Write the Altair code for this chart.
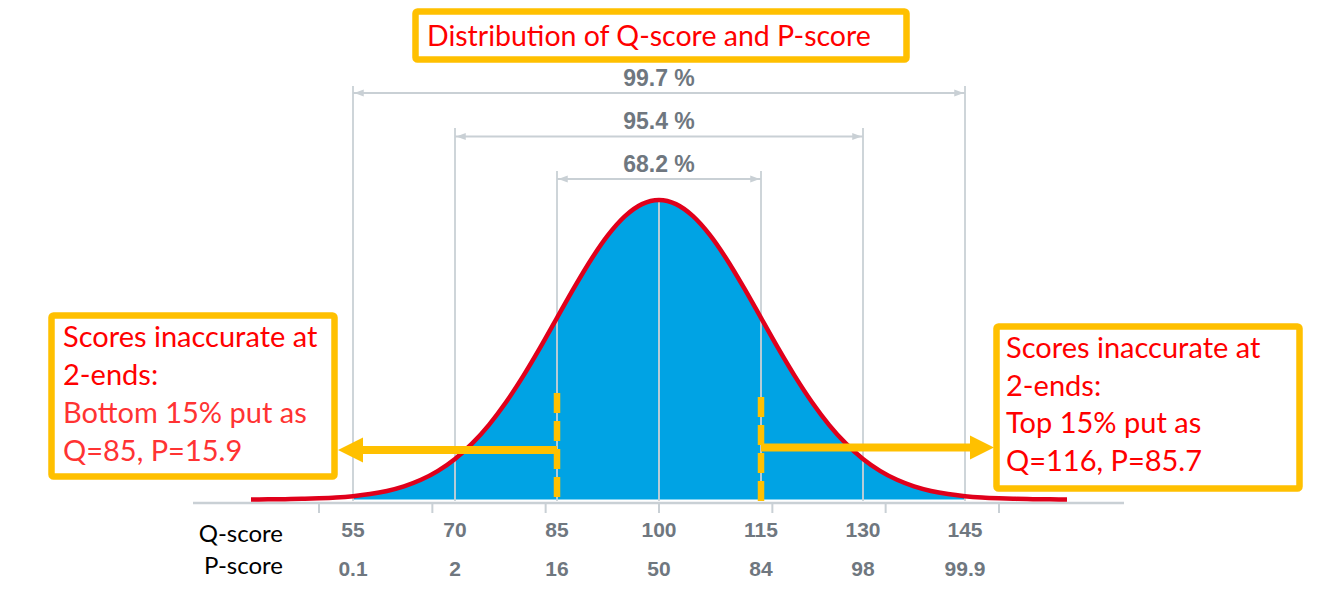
import altair as alt
import pandas as pd

# ---------------- data ----------------
q_grid = [40, 42.5, 45, 47.5, 50, 52.5, 55, 57.5, 60, 62.5, 65, 67.5, 70, 72.5,
          75, 77.5, 80, 82.5, 85, 87.5, 90, 92.5, 95, 97.5, 100, 102.5, 105, 107.5,
          110, 112.5, 115, 117.5, 120, 122.5, 125, 127.5, 130, 132.5, 135, 137.5,
          140, 142.5, 145, 147.5, 150, 152.5, 155, 157.5, 160]
density = [0.0003, 0.0006, 0.0012, 0.0022, 0.0039, 0.0066, 0.0111, 0.0181, 0.0286,
           0.0439, 0.0657, 0.0956, 0.1353, 0.1863, 0.2494, 0.3247, 0.4111, 0.5063,
           0.6065, 0.7066, 0.8007, 0.8825, 0.9460, 0.9862, 1.0000, 0.9862, 0.9460,
           0.8825, 0.8007, 0.7066, 0.6065, 0.5063, 0.4111, 0.3247, 0.2494, 0.1863,
           0.1353, 0.0956, 0.0657, 0.0439, 0.0286, 0.0181, 0.0111, 0.0066, 0.0039,
           0.0022, 0.0012, 0.0006, 0.0003]
q_labels = ["55", "70", "85", "100", "115", "130", "145"]
q_values = [55, 70, 85, 100, 115, 130, 145]
p_labels = ["0.1", "2", "16", "50", "84", "98", "99.9"]
tick_q = [50, 66.67, 83.33, 100, 116.67, 133.33, 150]
bracket_pct = ["99.7 %", "95.4 %", "68.2 %"]
bracket_lo = [55, 70, 85]
bracket_hi = [145, 130, 115]
cut_q = [85, 115]

title_text = "Distribution of Q-score and P-score"
left_lines = ["Scores inaccurate at", "2-ends:", "Bottom 15% put as", "Q=85, P=15.9"]
right_lines = ["Scores inaccurate at", "2-ends:", "Top 15% put as", "Q=116, P=85.7"]

# ---------------- layout (pixels) ----------------
W, H = 1328, 615
X_MEAN_PX, PX_PER_Q = 659.0, 6.8
Y_BASE_PX, PX_PER_D = 499.5, 299.5


def qpx(px):
    return 100 + (px - X_MEAN_PX) / PX_PER_Q


def dpx(px):
    return (Y_BASE_PX - px) / PX_PER_D


XS = alt.Scale(domain=[qpx(0), qpx(W)], nice=False, zero=False)
YS = alt.Scale(domain=[dpx(H), dpx(0)], nice=False, zero=False)

GRAY = "#c9d0d5"
LABEL_GRAY = "#6f777f"
BLUE = "#00a3e4"
RED = "#e0001b"
GOLD = "#ffc000"

one = pd.DataFrame({"a": [0]})


def X(f):
    return alt.X(f, type="quantitative", scale=XS, axis=None)


def Y(f):
    return alt.Y(f, type="quantitative", scale=YS, axis=None)


curve = pd.DataFrame({"q": q_grid, "d": density})
fill_df = curve[(curve.q >= 55) & (curve.q <= 145)]

layers = []

# axis line and ticks
layers.append(alt.Chart(one).mark_rule(color=GRAY, strokeWidth=2.5).encode(
    x=alt.value(193), x2=alt.value(1124), y=alt.value(503)))
layers.append(alt.Chart(pd.DataFrame({"q": tick_q})).mark_rule(color=GRAY, strokeWidth=2).encode(
    x=X("q"), y=alt.value(503), y2=alt.value(513)))

# blue area
layers.append(alt.Chart(fill_df).mark_area(color=BLUE, interpolate="monotone").encode(
    x=X("q"), y=Y("d"), y2=alt.datum(0)))

# vertical bracket lines
vdf = pd.DataFrame({
    "q": bracket_lo + bracket_hi + [100],
    "top": [dpx(86), dpx(128), dpx(171)] * 2 + [1.0],
    "bot": [dpx(501)] * 7,
})
layers.append(alt.Chart(vdf).mark_rule(color=GRAY, strokeWidth=2, opacity=0.9).encode(
    x=X("q"), y=Y("top"), y2=alt.Y2("bot")))

# horizontal bracket lines
bdf = pd.DataFrame({
    "lo": bracket_lo, "hi": bracket_hi, "pct": bracket_pct,
    "ly": [dpx(93), dpx(136.5), dpx(179)],
    "ty": [dpx(79), dpx(122), dpx(165)],
    "mid": [100, 100, 100],
})
layers.append(alt.Chart(bdf).mark_rule(color=GRAY, strokeWidth=2).encode(
    x=X("lo"), x2=alt.X2("hi"), y=Y("ly")))
layers.append(alt.Chart(bdf).mark_point(shape="M-1,0L1,-0.75L1,0.75Z", filled=True, size=90,
                                         color=GRAY, opacity=1, xOffset=6).encode(
    x=X("lo"), y=Y("ly")))
layers.append(alt.Chart(bdf).mark_point(shape="M1,0L-1,-0.75L-1,0.75Z", filled=True, size=90,
                                         color=GRAY, opacity=1, xOffset=-6).encode(
    x=X("hi"), y=Y("ly")))
layers.append(alt.Chart(bdf).mark_text(font="Liberation Sans", fontSize=23, fontWeight="bold",
                                        color=LABEL_GRAY, align="center", baseline="middle").encode(
    x=X("mid"), y=Y("ty"), text="pct:N"))

# red curve
layers.append(alt.Chart(curve).mark_line(color=RED, strokeWidth=4.5, interpolate="monotone").encode(
    x=X("q"), y=Y("d")))

# axis labels
ldf = pd.DataFrame({"q": q_values, "ql": q_labels, "pl": p_labels})
layers.append(alt.Chart(ldf).mark_text(font="Liberation Sans", fontSize=21, fontWeight="bold",
                                        color=LABEL_GRAY, baseline="middle").encode(
    x=X("q"), y=alt.value(531), text="ql:N"))
layers.append(alt.Chart(ldf).mark_text(font="Liberation Sans", fontSize=21, fontWeight="bold",
                                        color=LABEL_GRAY, baseline="middle").encode(
    x=X("q"), y=alt.value(570), text="pl:N"))
for txt, ypos in [("Q-score", 535), ("P-score", 567)]:
    layers.append(alt.Chart(one).mark_text(text=txt, font="Lato", fontSize=24, color="black",
                                            align="right", baseline="middle").encode(
        x=alt.value(283), y=alt.value(ypos)))

# yellow dashed cut lines
cdf = pd.DataFrame({"q": cut_q, "top": [dpx(393), dpx(397)], "bot": [dpx(499), dpx(501)]})
layers.append(alt.Chart(cdf).mark_rule(color=GOLD, strokeWidth=6.5, strokeDash=[20, 8]).encode(
    x=X("q"), y=Y("top"), y2=alt.Y2("bot")))

# yellow arrows
adf = pd.DataFrame({"q": cut_q, "end": [qpx(362), qpx(972)], "y": [dpx(450), dpx(447.5)]})
layers.append(alt.Chart(adf).mark_rule(color=GOLD, strokeWidth=8).encode(
    x=X("q"), x2=alt.X2("end"), y=Y("y")))
layers.append(alt.Chart(adf.iloc[[0]]).mark_point(shape="M-1,0L1,-1L1,1Z", filled=True, size=625,
                                                   color=GOLD, opacity=1, xOffset=-11.5).encode(
    x=X("end"), y=Y("y")))
layers.append(alt.Chart(adf.iloc[[1]]).mark_point(shape="M1,0L-1,-1L-1,1Z", filled=True, size=576,
                                                   color=GOLD, opacity=1, xOffset=10).encode(
    x=X("end"), y=Y("y")))

# boxes
for (x1, x2, y1, y2) in [(415.5, 906.5, 11.5, 59.5), (51.5, 334.5, 315.5, 476.5),
                         (996.5, 1299.5, 326.5, 488.5)]:
    layers.append(alt.Chart(one).mark_rect(fill="white", stroke=GOLD, strokeWidth=6.5,
                                           cornerRadius=2).encode(
        x=alt.value(x1), x2=alt.value(x2), y=alt.value(y1), y2=alt.value(y2)))

layers.append(alt.Chart(one).mark_text(text=title_text, color="#ff0000", font="Lato", fontSize=28.5,
                                       align="left", baseline="middle").encode(
    x=alt.value(427), y=alt.value(37)))
BOX_FONT = dict(font="Lato", fontSize=29, align="left", baseline="middle")
for i, (txt, ypos) in enumerate(zip(left_lines, [338, 376, 414, 452])):
    col = "#ff0000" if i < 2 else "#ff3333"
    layers.append(alt.Chart(one).mark_text(text=txt, color=col, **BOX_FONT).encode(
        x=alt.value(63), y=alt.value(ypos)))
for txt, ypos in zip(right_lines, [349, 387, 424, 462]):
    layers.append(alt.Chart(one).mark_text(text=txt, color="#ff0000", **BOX_FONT).encode(
        x=alt.value(1006), y=alt.value(ypos)))

chart = alt.layer(*layers).properties(
    width=W, height=H, padding=0, autosize=alt.AutoSizeParams(type="none"),
    background="white",
).configure_view(stroke=None)

chart.save("out.html", embed_options={"renderer": "svg", "actions": False})
